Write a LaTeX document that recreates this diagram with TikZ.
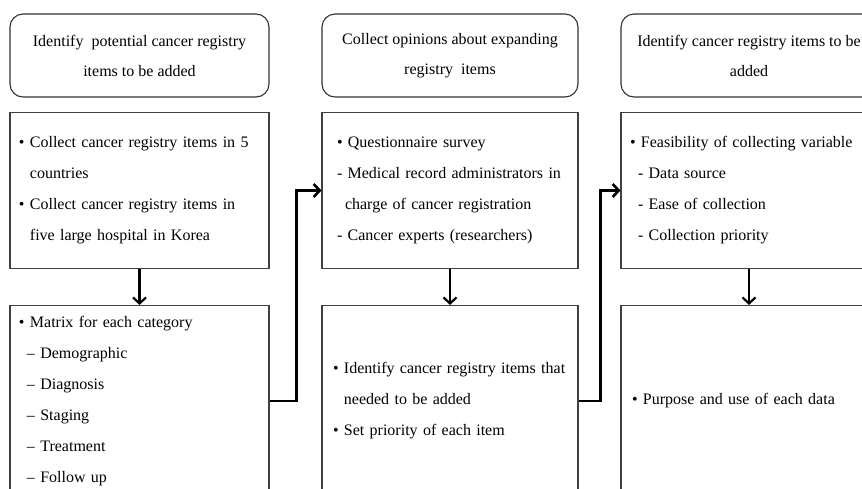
\documentclass[tikz,border=0pt]{standalone}
\usepackage{fontspec}
\setmainfont{Liberation Serif}
\usepackage{tikz}
\usetikzlibrary{positioning}
\usetikzlibrary{shapes.geometric, arrows.meta}

\begin{document}
\begin{tikzpicture}[x=1pt, y=-1pt,
	   			 headnode/.style={rectangle, rounded corners=13pt, draw=black!80, line width=1.1pt, minimum width=256pt, minimum height=83pt, align=center, font=\fontsize{16}{30}\selectfont},
				 itemnode/.style={rectangle, draw=black!75, line width=1.1pt, align=left, font=\fontsize{16}{31}\selectfont},
				 toparrow/.style={line width=2.2pt, -{Straight Barb[length=6pt, width=13pt]}},
				 sidearrow/.style={line width=2.6pt, -{Straight Barb[length=6pt, width=13pt]}},
				 ]
				 \useasboundingbox (0, 0) rectangle (862, 488);
				 \clip (0, 0) rectangle (862, 488);

				 % Nodes
				 \node[headnode, minimum width=259pt]           (potential_level0)     at (139.5, 55.5)    {Identify\ \ potential cancer registry\\items to be added};
				 \node[headnode]                                (opinions_level0)      at (450, 55.5)      {Collect opinions about expanding\\registry\ \ items};
				 \node[headnode]                                (identify_level0)      at (749, 55.5)      {Identify cancer registry items to be\\added};

				 \node[itemnode, text width=241pt, inner xsep=9pt, minimum height=156pt]    (collect_level1)    at (139.5, 190.5)   {\textbullet\ Collect cancer registry items in 5\\
				 	\phantom{\textbullet\ }countries\\
				 	\textbullet\ Collect cancer registry items in\\
				 	\phantom{\textbullet\ }five large hospital in Korea};
				 \node[itemnode, text width=226pt, inner xsep=15pt, minimum height=156pt]   (survey_level1)     at (450, 190.5)     {\textbullet\ Questionnaire survey\\
				 	- Medical record administrators in\\
				 	\hspace*{8pt}charge of cancer registration\\
				 	- Cancer experts (researchers)};
				 \node[itemnode, text width=238pt, inner xsep=9pt, minimum height=156pt]    (feasible_level1)   at (749, 190.5)     {\textbullet\ Feasibility of collecting variable\\
				 	\hspace*{8pt}- Data source\\
				 	\hspace*{8pt}- Ease of collection\\
				 	\hspace*{8pt}- Collection priority};

				 \node[itemnode, text width=241pt, inner xsep=9pt, minimum height=191pt]    (matrix_level2)     at (139.5, 401)     {\textbullet\ Matrix for each category\\
				 	\hspace*{8pt}-- Demographic\\
				 	\hspace*{8pt}-- Diagnosis\\
				 	\hspace*{8pt}-- Staging\\
				 	\hspace*{8pt}-- Treatment\\
				 	\hspace*{8pt}-- Follow up};
				 \node[itemnode, text width=234pt, inner xsep=11pt, minimum height=191pt]   (priority_level2)   at (450, 401)       {\textbullet\ Identify cancer registry items that\\
				 	\phantom{\textbullet\ }needed to be added\\
				 	\textbullet\ Set priority of each item};
				 \node[itemnode, text width=234pt, inner xsep=11pt, minimum height=191pt]   (purpose_level2)    at (749, 401)       {\textbullet\ Purpose and use of each data};

				 % Lines
				 \draw[toparrow] (collect_level1.south)       --  (matrix_level2.north);
				 \draw[toparrow] (survey_level1.south)        --  (priority_level2.north);
				 \draw[toparrow] (feasible_level1.south)      --  (purpose_level2.north);
				 \draw[sidearrow] (matrix_level2.east)        --  ++(27, 0)  |-  (survey_level1.west);
				 \draw[sidearrow] (priority_level2.east)      --  ++(22, 0)  |-  (feasible_level1.west);
			\end{tikzpicture}
\end{document}
